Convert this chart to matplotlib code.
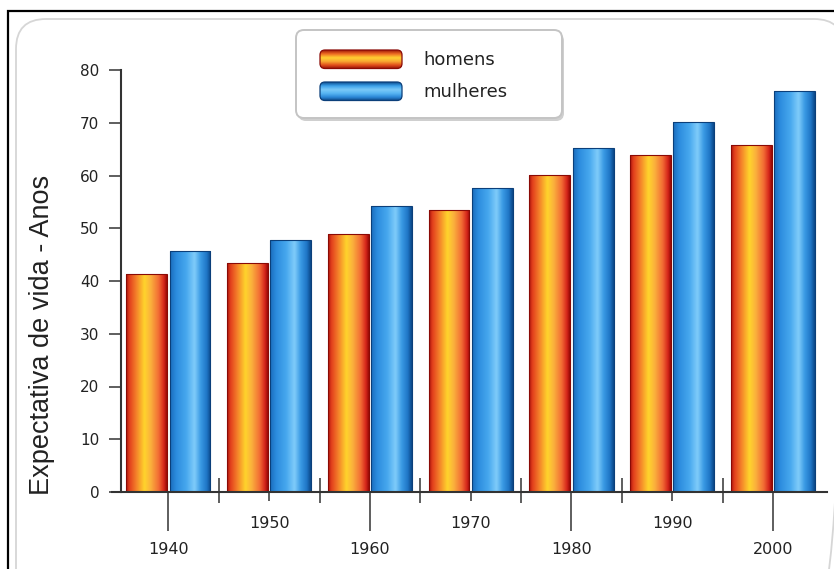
import numpy as np
import matplotlib
matplotlib.use("Agg")
import matplotlib.pyplot as plt
from matplotlib.colors import LinearSegmentedColormap
from matplotlib.patches import FancyBboxPatch

# data
years = ['1940', '1950', '1960', '1970', '1980', '1990', '2000']
homens = [41.3, 43.5, 49.0, 53.5, 60.1, 63.8, 65.7]
mulheres = [45.7, 47.8, 54.2, 57.7, 65.3, 70.2, 76.0]
series_names = ['homens', 'mulheres']
yticks = [0, 10, 20, 30, 40, 50, 60, 70, 80]

### cylinder-like gradients for the bars
cmap_h = LinearSegmentedColormap.from_list('h', [
    (0.0, '#a8140c'), (0.08, '#e23d1c'), (0.25, '#f4802a'), (0.45, '#ffd42c'),
    (0.6, '#fbb23c'), (0.8, '#f26c34'), (0.93, '#d4241a'), (1.0, '#940a06')])
cmap_m = LinearSegmentedColormap.from_list('m', [
    (0.0, '#1a6cbc'), (0.15, '#2c8cde'), (0.4, '#47a8ee'), (0.6, '#80ccfa'),
    (0.75, '#3a9ae4'), (0.9, '#1f76c6'), (1.0, '#0b4686')])
cmap_h_leg = LinearSegmentedColormap.from_list('hl', [
    '#9a1808', '#ee6a22', '#ffd232', '#f8a832', '#e04a1a', '#8c1006'])
cmap_m_leg = LinearSegmentedColormap.from_list('ml', [
    '#0c4a8a', '#3aa0ea', '#7ccaf8', '#56b4f2', '#2a86d6', '#0b3f7a'])

plt.rcParams['font.family'] = ['DejaVu Sans']
txt = '#222222'
axc = '#333333'

fig = plt.figure(figsize=(8.34, 5.69), dpi=100)
W, H = 834.0, 569.0
ax = fig.add_axes([112 / W, 77 / H, 715 / W, 422 / H])
ax.patch.set_alpha(0)

x = np.arange(len(years))
bw = 0.405
bars_h = ax.bar(x - 0.215, homens, bw, edgecolor='#8a0a05', linewidth=0.8, zorder=2)
bars_m = ax.bar(x + 0.215, mulheres, bw, edgecolor='#0b3f7a', linewidth=0.8, zorder=2)

def fill_gradient(ax, bar, cmap):
    x0, y0 = bar.get_x(), bar.get_y()
    w, h = bar.get_width(), bar.get_height()
    grad = np.linspace(0, 1, 256).reshape(1, -1)
    im = ax.imshow(grad, cmap=cmap, aspect='auto', origin='lower',
                   extent=[x0, x0 + w, y0, y0 + h], zorder=1.9,
                   interpolation='bicubic')
    im.set_clip_path(bar)
    bar.set_facecolor('none')

for b in bars_h:
    fill_gradient(ax, b, cmap_h)
for b in bars_m:
    fill_gradient(ax, b, cmap_m)

ax.set_aspect('auto')
ax.set_xlim(-0.560, 6.536)
ax.set_ylim(0, 80)

for s in ['top', 'right']:
    ax.spines[s].set_visible(False)
ax.spines['left'].set_position(('data', -0.471))
ax.spines['left'].set_bounds(0, 80)
ax.spines['left'].set_linewidth(1.5)
ax.spines['left'].set_color(axc)
ax.spines['bottom'].set_linewidth(1.5)
ax.spines['bottom'].set_color(axc)

ax.set_yticks(yticks)
ax.set_yticklabels([str(v) for v in yticks])
ax.tick_params(axis='y', length=8.6, width=1.1, pad=7, color=axc,
               labelsize=11, labelcolor=txt)

# long ticks for 1940/60/80/2000, short ones for 1950/70/90
ax.set_xticks(x[::2])
ax.set_xticklabels(years[::2])
ax.set_xticks(x[1::2], minor=True)
ax.set_xticklabels(years[1::2], minor=True)
ax.tick_params(axis='x', which='major', length=28, width=1.1, pad=8,
               color=axc, labelsize=11.5, labelcolor=txt)
ax.tick_params(axis='x', which='minor', length=6.5, width=1.1, pad=11,
               color=axc, labelsize=11.5, labelcolor=txt)
# separators between groups
ax.vlines(x[:-1] + 0.5, -2.1, 2.65, color=axc, linewidth=1.1, clip_on=False)

### overlay in pixel units for frame, legend and y label
ov = fig.add_axes([0, 0, 1, 1], zorder=5)
ov.set_xlim(0, W)
ov.set_ylim(H, 0)
ov.axis('off')
ov.patch.set_alpha(0)

ov.plot([8, 8, W], [H, 10.5, 10.5], color='black', linewidth=1.6,
        solid_joinstyle='miter')
ov.add_patch(FancyBboxPatch((16, 19), 828, 600, boxstyle='round,pad=0,rounding_size=30',
                            ec='#d6d6d6', fc='none', lw=1.3))

ov.text(42, 335, 'Expectativa de vida - Anos', rotation=90, ha='center', va='center',
        fontsize=19.5, family=['Liberation Sans', 'DejaVu Sans'], color=txt)

# legend
ov.add_patch(FancyBboxPatch((298, 33), 266, 88, boxstyle='round,pad=0,rounding_size=8',
                            ec='none', fc='#cfcfcf'))
ov.add_patch(FancyBboxPatch((296, 30), 266, 88, boxstyle='round,pad=0,rounding_size=8',
                            ec='#c4c4c4', fc='white', lw=1.4))
leg_rows = [(50, cmap_h_leg, '#8a0a05'), (82, cmap_m_leg, '#0b3f7a')]
for name, (ytop, cm, ec) in zip(series_names, leg_rows):
    p = FancyBboxPatch((320, ytop), 82, 18.5, boxstyle='round,pad=0,rounding_size=5',
                       ec=ec, fc='none', lw=0.9, zorder=3)
    ov.add_patch(p)
    grad = np.linspace(0, 1, 256).reshape(-1, 1)
    im = ov.imshow(grad, cmap=cm, aspect='auto', origin='upper',
                   extent=[320, 402, ytop + 18.5, ytop], zorder=2.5,
                   interpolation='bicubic')
    im.set_clip_path(p)
    ov.text(423, ytop + 9.5, name, ha='left', va='center', fontsize=13, color=txt)

ov.set_xlim(0, W)
ov.set_ylim(H, 0)
ov.set_aspect('auto')

plt.savefig('out.png', dpi=100)
